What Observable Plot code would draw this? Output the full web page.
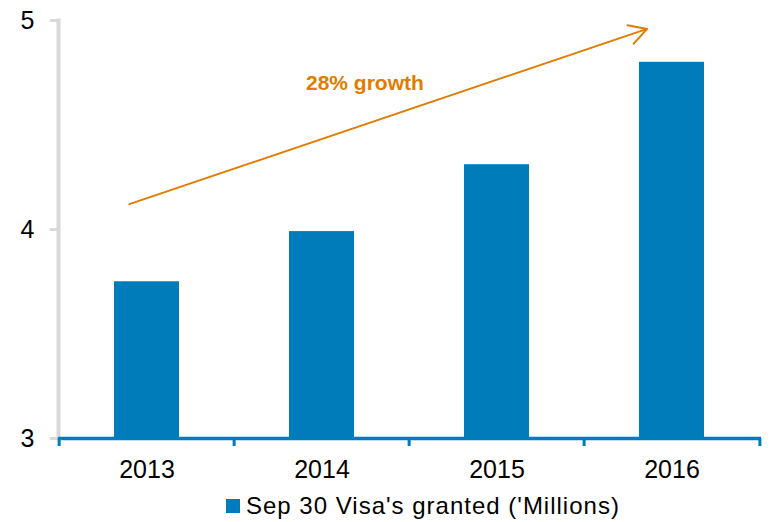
<!DOCTYPE html>
<html><head><meta charset="utf-8">
<script src="https://cdn.jsdelivr.net/npm/d3@7"></script>
<script src="https://cdn.jsdelivr.net/npm/@observablehq/plot@0.6"></script>
<style>
body{margin:0;background:#fff;font-family:"Liberation Sans",Arial,sans-serif;}
#legend{position:relative;height:40px;width:770px;}
#legend .sw{position:absolute;left:226px;top:17px;width:14px;height:14px;}
#legend .lab{position:absolute;left:246px;top:12px;font-size:24px;line-height:24px;letter-spacing:1px;color:#000;white-space:nowrap;}
</style></head><body>
<div id="chart"></div>
<script>
const years = ["2013", "2014", "2015", "2016"];
const visas = [3.75, 3.99, 4.31, 4.80];
const yTicks = [3, 4, 5];
const yTickLabels = ["3", "4", "5"];
const seriesName = "Sep 30 Visa's granted ('Millions)";
const annotationText = "28% growth";
const annotationAt = {year: "2014", value: 4.70};
const arrowFrom = {year: "2013", value: 4.15};
const arrowTo = {year: "2016", value: 5.0};

const blue = "#007CBA", orange = "#E07C00", gray = "#D9D9D9";
const data = years.map((year, i) => ({year, value: visas[i]}));
const W = 770, H = 482, mL = 58, mR = 9, mT = 20, mB = 44;
const step = (W - mL - mR) / years.length;

const plot = Plot.plot({
  width: W, height: H,
  marginLeft: mL, marginRight: mR, marginTop: mT, marginBottom: mB,
  style: {fontFamily: "Liberation Sans, Arial, sans-serif", color: "#000", background: "#fff", overflow: "visible"},
  x: {domain: years, paddingInner: 0.627, paddingOuter: 0.3135, label: null},
  y: {domain: [3, 5], label: null},
  marks: [
    Plot.frame({anchor: "left", stroke: gray, strokeWidth: 4}),
    Plot.axisY({ticks: yTicks, tickSize: 8, stroke: gray, strokeWidth: 3, tickFormat: () => "", label: null}),
    Plot.axisY({ticks: yTicks, tickSize: 0, tickPadding: 24, fontSize: 25, fill: "#000", label: null,
      tickFormat: (d) => yTickLabels[yTicks.indexOf(d)]}),
    Plot.barY(data, {x: "year", y1: 3, y2: "value", fill: blue}),
    Plot.ruleY([3], {stroke: blue, strokeWidth: 3.5}),
    Plot.axisX(years, {tickSize: 8, stroke: blue, strokeWidth: 3, tickFormat: () => "", dx: -step / 2, label: null}),
    Plot.axisX([years[years.length - 1]], {tickSize: 8, stroke: blue, strokeWidth: 3, tickFormat: () => "", dx: step / 2, label: null}),
    Plot.axisX({tickSize: 0, tickPadding: 22, fontSize: 25, fill: "#000", label: null}),
    Plot.arrow([{x1: arrowFrom.year, y1: arrowFrom.value, x2: arrowTo.year, y2: arrowTo.value}], {
      x1: "x1", y1: "y1", x2: "x2", y2: "y2",
      stroke: orange, strokeWidth: 2, headLength: 15, headAngle: 58,
      insetStart: -18.6, insetEnd: 26.2
    }),
    Plot.text([annotationAt], {x: "year", y: "value", text: () => annotationText, textAnchor: "start", dx: -16,
      fill: orange, fontSize: 21, fontWeight: "bold"})
  ]
});
document.getElementById("chart").appendChild(plot);

const legend = document.createElement("div");
legend.id = "legend";
const sw = document.createElement("span"); sw.className = "sw"; sw.style.background = blue;
const lab = document.createElement("span"); lab.className = "lab"; lab.textContent = seriesName;
legend.appendChild(sw); legend.appendChild(lab);
document.body.appendChild(legend);
</script>
</body></html>
